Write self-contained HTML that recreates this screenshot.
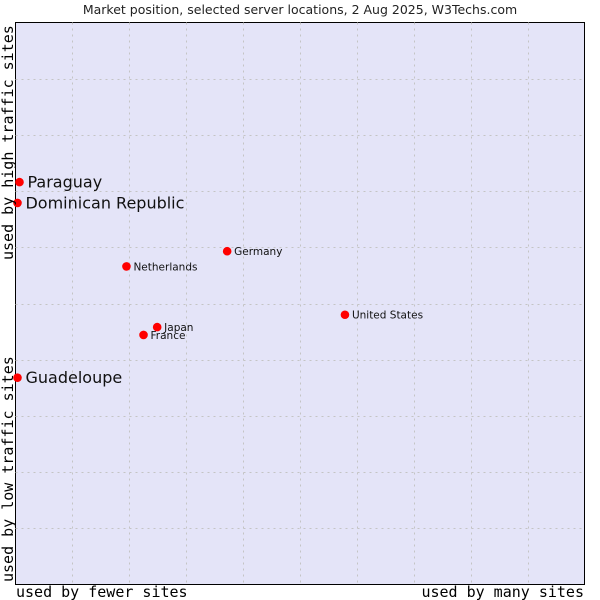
<!DOCTYPE html>
<html><head><meta charset="utf-8"><style>
html,body{margin:0;padding:0;background:#fff;}
svg{display:block;}
</style></head><body>
<svg id="chart" width="600" height="600" xmlns="http://www.w3.org/2000/svg">
<rect x="0" y="0" width="600" height="600" fill="#fff"/>
<text x="300" y="14" text-anchor="middle" font-family="DejaVu Sans, sans-serif" font-size="12.5" fill="#222">Market position, selected server locations, 2 Aug 2025, W3Techs.com</text>
<rect x="15.5" y="22.5" width="569" height="562" fill="#e4e4f8" stroke="#000" stroke-width="1"/>
<g id="grid"></g>
<g id="marks"></g>
<text x="16" y="597" font-family="DejaVu Sans Mono, Liberation Mono, monospace" font-size="15" fill="#000">used by fewer sites</text>
<text x="584" y="597" text-anchor="end" font-family="DejaVu Sans Mono, Liberation Mono, monospace" font-size="15" fill="#000">used by many sites</text>
<text transform="translate(13,260) rotate(-90)" font-family="DejaVu Sans Mono, Liberation Mono, monospace" font-size="15" fill="#000">used by high traffic sites</text>
<text transform="translate(13,582) rotate(-90)" font-family="DejaVu Sans Mono, Liberation Mono, monospace" font-size="15" fill="#000">used by low traffic sites</text>
</svg>
<script>
const countries = ["Paraguay","Dominican Republic","Germany","Netherlands","United States","Japan","France","Guadeloupe"];
const xValues = [0.7,0.35,37.2,19.5,57.9,24.9,22.5,0.35];
const yValues = [71.6,67.9,59.3,56.6,48.0,45.8,44.4,36.8];
const highlighted = [true,true,false,false,false,false,false,true];
const gridTicks = [10,20,30,40,50,60,70,80,90];
const NS="http://www.w3.org/2000/svg";
const L=15.5,R=584.5,T=22.5,B=584.5;
function sx(v){return L+(R-L)*v/100;}
function sy(v){return B-(B-T)*v/100;}
const grid=document.getElementById('grid');
gridTicks.forEach(t=>{
  const v=document.createElementNS(NS,'line');
  v.setAttribute('x1',Math.round(sx(t))+0.5);v.setAttribute('x2',Math.round(sx(t))+0.5);
  v.setAttribute('y1',T);v.setAttribute('y2',B);
  v.setAttribute('stroke','#c4c4c4');v.setAttribute('stroke-dasharray','2,4');
  
  
  grid.appendChild(v);
  const h=document.createElementNS(NS,'line');
  h.setAttribute('y1',Math.round(sy(t))+0.5);h.setAttribute('y2',Math.round(sy(t))+0.5);
  h.setAttribute('x1',L);h.setAttribute('x2',R);
  h.setAttribute('stroke','#c4c4c4');h.setAttribute('stroke-dasharray','2,4');
  
  
  grid.appendChild(h);
});
const marks=document.getElementById('marks');
countries.forEach((c,i)=>{
  const x=sx(xValues[i]),y=sy(yValues[i]);
  const d=document.createElementNS(NS,'circle');
  d.setAttribute('cx',x);d.setAttribute('cy',y);d.setAttribute('r',4.3);d.setAttribute('fill','#ff0000');
  
  
  marks.appendChild(d);
  const t=document.createElementNS(NS,'text');
  const big=highlighted[i];
  t.setAttribute('x',x+(big?8:7));t.setAttribute('y',y+(big?5.5:4));
  t.setAttribute('font-family','DejaVu Sans, sans-serif');
  t.setAttribute('font-size',big?16:10.5);
  t.setAttribute('fill','#111');
  t.textContent=c;
  
  
  marks.appendChild(t);
});
</script>
</body></html>
